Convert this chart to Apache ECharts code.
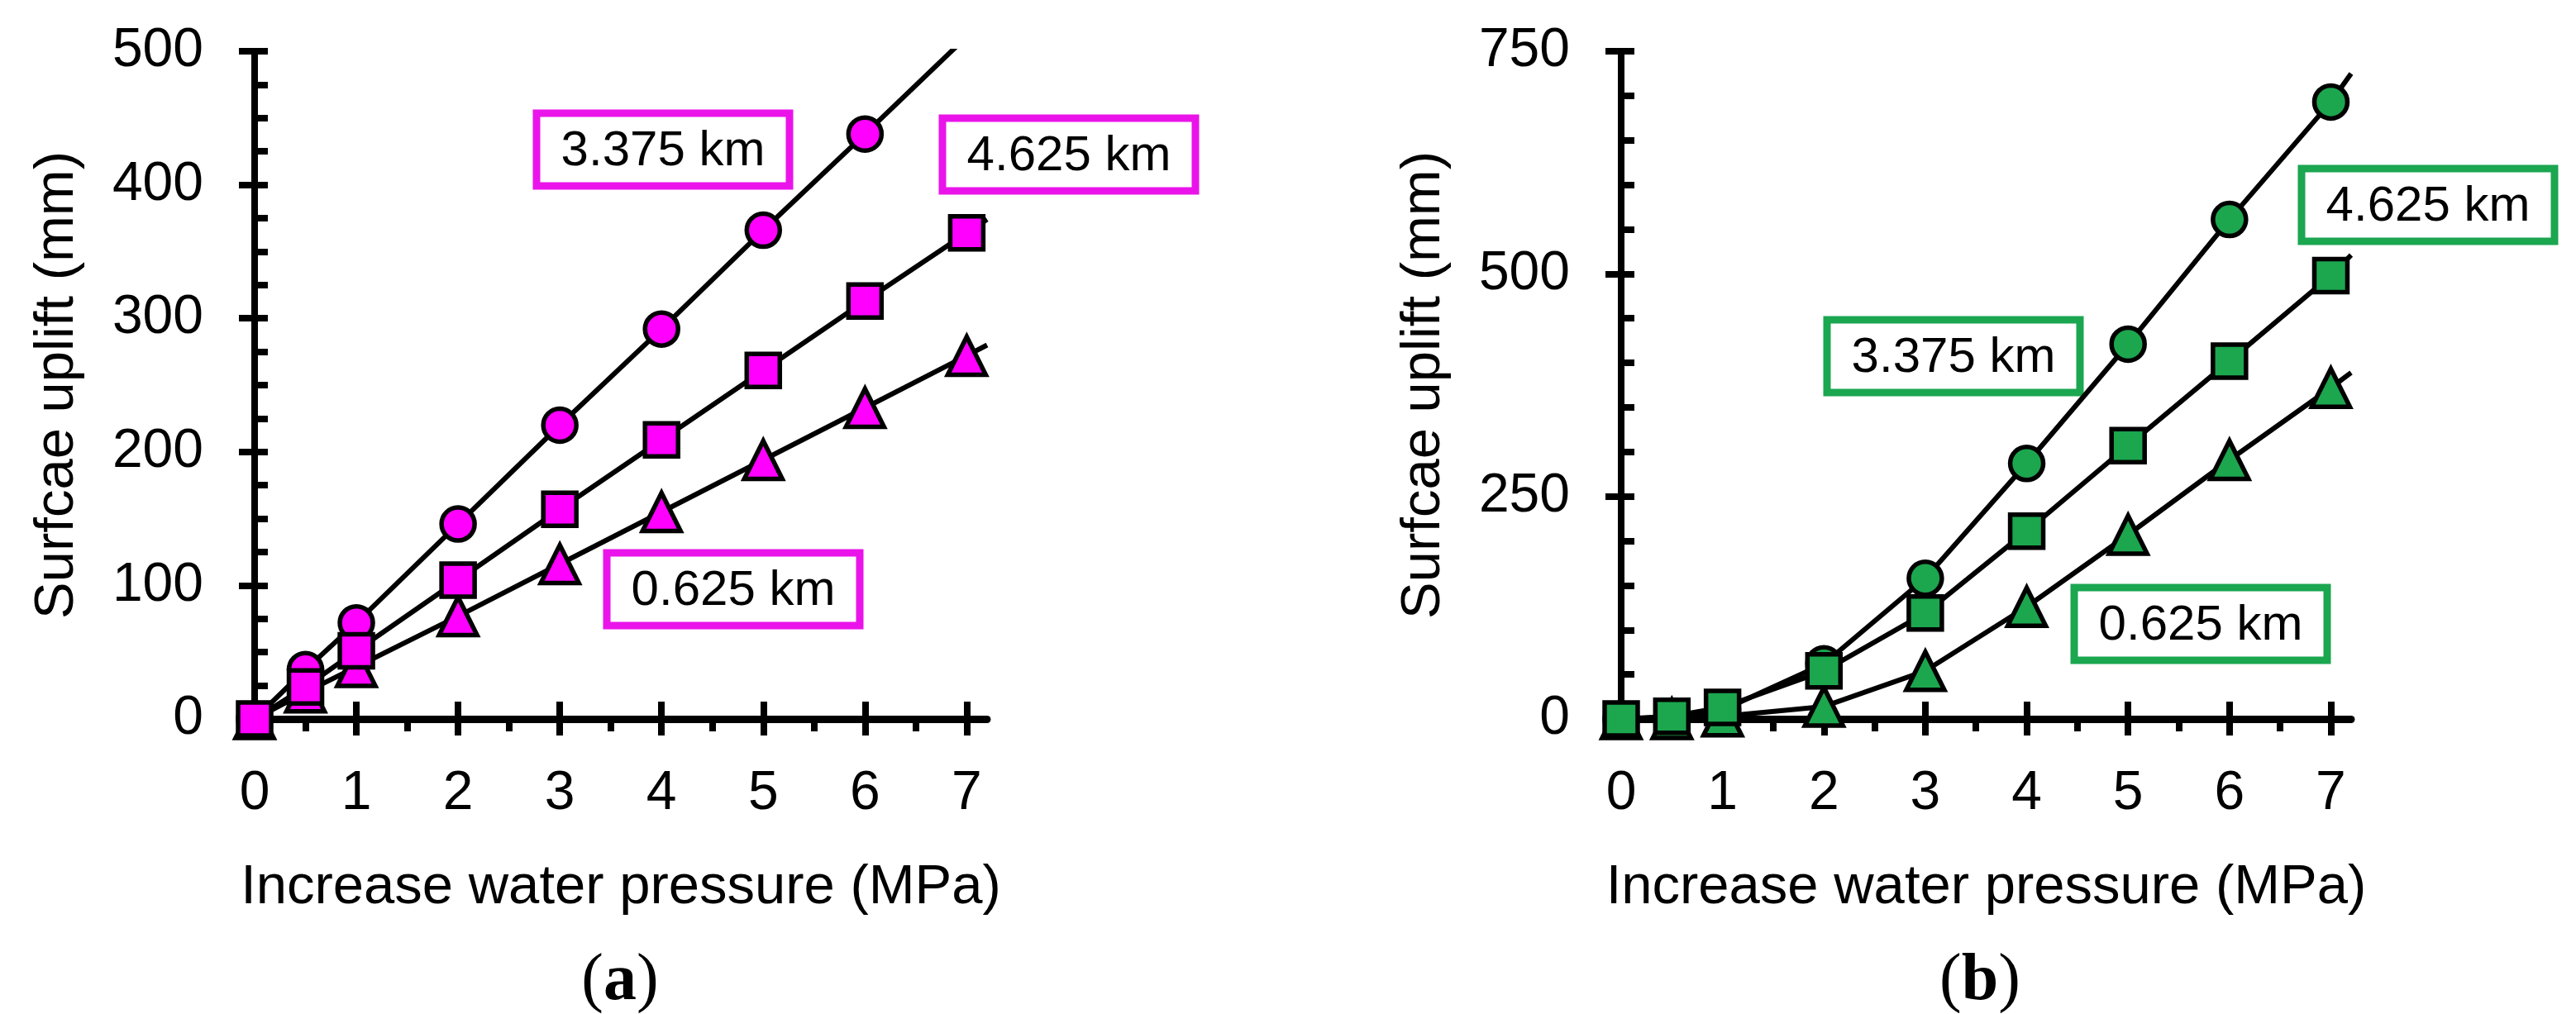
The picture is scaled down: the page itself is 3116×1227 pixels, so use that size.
<!DOCTYPE html>
<html>
<head>
<meta charset="utf-8">
<script src="https://cdn.jsdelivr.net/npm/echarts@6/dist/echarts.min.js"></script>
<style>
  html, body { margin: 0; padding: 0; background: #fff; }
  #chart { width: 3116px; height: 1227px; }
</style>
</head>
<body>
<div id="chart"></div>
<script>
// 横轴：水压增量 (MPa)
const pressure = [0, 0.5, 1, 2, 3, 4, 5, 6, 7];
const depthNames = ['3.375 km', '4.625 km', '0.625 km'];

// (a) 地表抬升 (mm)
const upliftA_3375 = [0, 37, 72, 146, 220, 292, 366, 438];
const upliftA_4625 = [0, 24, 51, 104, 157, 209, 261, 313, 364];
const upliftA_0625 = [0, 20, 39, 77, 116, 155, 194, 233, 272];
// 线的延伸端点（超出最后一个点）
const lineEndA = [[7, 511], [7.2, 374], [7.2, 280]];

// (b) 地表抬升 (mm)
const upliftB_3375 = [0, 2, 10, 62, 158, 287, 421, 561, 693];
const upliftB_4625 = [0, 3, 13, 54, 119, 211, 307, 402, 498];
const upliftB_0625 = [0, 0, 3, 14, 54, 126, 207, 291, 372];
const lineEndB = [[7.2, 725], [7.2, 521], [7.2, 389]];

// 刻度
const xTicks = [0, 1, 2, 3, 4, 5, 6, 7];
const xHalfTicks = [0.5, 1.5, 2.5, 3.5, 4.5, 5.5, 6.5];
const yTicksA = [0, 100, 200, 300, 400, 500];
const yMinorA = [0, 25, 50, 75, 100, 125, 150, 175, 200, 225, 250, 275, 300, 325, 350, 375, 400, 425, 450, 475, 500];
const yTicksB = [0, 250, 500, 750];
const yMinorB = [0, 50, 100, 150, 200, 250, 300, 350, 400, 450, 500, 550, 600, 650, 700, 750];

const FONT = '"Liberation Sans", Arial, sans-serif';
const SERIF = '"Liberation Serif", "Times New Roman", serif';
const MAGENTA = '#ff00ff';
const MAGENTA_BOX = '#ea14ea';
const GREEN = '#1ca64e';
const GREEN_BOX = '#1ba650';

let chart = echarts.init(document.getElementById('chart'));

const pairs = (vals) => vals.map((v, i) => [pressure[i], v]);

// 主横轴（轴线、标签、向下的大刻度）
function xMain(grid) {
  return {
    type: 'value', gridIndex: grid, min: 0, max: 7.2, position: 'bottom',
    name: 'Increase water pressure (MPa)', nameLocation: 'middle', nameGap: 171,
    nameTextStyle: {fontSize: 67, fontFamily: FONT, color: '#000'},
    axisLine: {show: true, onZero: false, lineStyle: {color: '#000', width: 9}},
    axisTick: {show: true, customValues: xTicks, length: 20, lineStyle: {color: '#000', width: 8}},
    axisLabel: {show: true, customValues: xTicks, margin: 58, fontSize: 66, fontFamily: FONT, color: '#000'},
    splitLine: {show: false}
  };
}
// 辅助横轴：只画刻度
function xTickOnly(grid, values, inside, len) {
  return {
    type: 'value', gridIndex: grid, min: 0, max: 7.2, position: 'bottom',
    axisLine: {show: false, onZero: false},
    axisTick: {show: true, inside: inside, customValues: values, length: len, lineStyle: {color: '#000', width: 8}},
    axisLabel: {show: false},
    splitLine: {show: false}
  };
}
function yMain(grid, max, ticks) {
  return {
    type: 'value', gridIndex: grid, min: 0, max: max, position: 'left',
    name: 'Surfcae uplift (mm)', nameLocation: 'middle', nameGap: 205,
    nameTextStyle: {fontSize: 67, fontFamily: FONT, color: '#000'},
    axisLine: {show: true, onZero: false, lineStyle: {color: '#000', width: 8}},
    axisTick: {show: true, customValues: ticks, length: 19, lineStyle: {color: '#000', width: 8}},
    axisLabel: {show: true, customValues: ticks, margin: 62, fontSize: 66, fontFamily: FONT, color: '#000'},
    splitLine: {show: false}
  };
}
function yTickOnly(grid, max, values) {
  return {
    type: 'value', gridIndex: grid, min: 0, max: max, position: 'left',
    axisLine: {show: false, onZero: false},
    axisTick: {show: true, inside: true, customValues: values, length: 16, lineStyle: {color: '#000', width: 8}},
    axisLabel: {show: false},
    splitLine: {show: false}
  };
}

// 连线（含延伸段）
function fitLine(xi, yi, vals, end) {
  return {
    type: 'line', xAxisIndex: xi, yAxisIndex: yi, z: 2,
    symbol: 'none', clip: true, silent: true,
    lineStyle: {color: '#000', width: 6},
    data: pairs(vals).concat([end])
  };
}
function markers(xi, yi, name, vals, symbol, size, color) {
  return {
    type: 'scatter', name: name, xAxisIndex: xi, yAxisIndex: yi, z: 3,
    symbol: symbol, symbolSize: size,
    itemStyle: {color: color, borderColor: '#000', borderWidth: 5.5, opacity: 1},
    data: pairs(vals)
  };
}

function labelBox(cx, cy, text, color) {
  return {
    type: 'group', x: cx, y: cy, z: 10,
    children: [
      {type: 'rect', shape: {x: -153, y: -44, width: 306, height: 88},
        style: {fill: '#fff', stroke: color, lineWidth: 9}},
      {type: 'text', x: 0, y: 2,
        style: {text: text, fontSize: 60, fontFamily: FONT, fill: '#000',
          align: 'center', verticalAlign: 'middle', textAlign: 'center', textVerticalAlign: 'middle'}}
    ]
  };
}
function panelTag(cx, cy, letter) {
  return {
    type: 'text', x: cx, y: cy, z: 10,
    style: {
      text: '{p|(}{b|' + letter + '}{p|)}',
      align: 'center', verticalAlign: 'middle', textAlign: 'center', textVerticalAlign: 'middle',
      rich: {
        p: {fontSize: 80, fontFamily: SERIF, fill: '#000', color: '#000'},
        b: {fontSize: 80, fontFamily: SERIF, fontWeight: 'bold', fill: '#000', color: '#000'}
      }
    }
  };
}

let option = {
  animation: false,
  backgroundColor: '#fff',
  grid: [
    {left: 308, top: 62, width: 886, height: 808},
    {left: 1961, top: 62, width: 883, height: 808}
  ],
  xAxis: [
    xMain(0), xTickOnly(0, xHalfTicks, false, 15), xTickOnly(0, xTicks, true, 21),
    xMain(1), xTickOnly(1, xHalfTicks, false, 15), xTickOnly(1, xTicks, true, 21)
  ],
  yAxis: [
    yMain(0, 500, yTicksA), yTickOnly(0, 500, yMinorA),
    yMain(1, 750, yTicksB), yTickOnly(1, 750, yMinorB)
  ],
  series: [
    // (a)
    fitLine(0, 0, upliftA_3375, lineEndA[0]),
    fitLine(0, 0, upliftA_4625, lineEndA[1]),
    fitLine(0, 0, upliftA_0625, lineEndA[2]),
    markers(0, 0, depthNames[0], upliftA_3375, 'circle', 40, MAGENTA),
    markers(0, 0, depthNames[2], upliftA_0625, 'triangle', [46, 46], MAGENTA),
    markers(0, 0, depthNames[1], upliftA_4625, 'rect', 40, MAGENTA),
    // (b)
    fitLine(3, 2, upliftB_3375, lineEndB[0]),
    fitLine(3, 2, upliftB_4625, lineEndB[1]),
    fitLine(3, 2, upliftB_0625, lineEndB[2]),
    markers(3, 2, depthNames[0], upliftB_3375, 'circle', 40, GREEN),
    markers(3, 2, depthNames[2], upliftB_0625, 'triangle', [46, 46], GREEN),
    markers(3, 2, depthNames[1], upliftB_4625, 'rect', 40, GREEN)
  ],
  graphic: [
    labelBox(802, 181, depthNames[0], MAGENTA_BOX),
    labelBox(1293, 187, depthNames[1], MAGENTA_BOX),
    labelBox(887, 713, depthNames[2], MAGENTA_BOX),
    labelBox(2363, 431, depthNames[0], GREEN_BOX),
    labelBox(2937, 248, depthNames[1], GREEN_BOX),
    labelBox(2662, 755, depthNames[2], GREEN_BOX),
    panelTag(750, 1188, 'a'),
    panelTag(2395, 1188, 'b')
  ]
};
chart.setOption(option);

window.onresize = () => {
  chart.resize();
};
</script>
</body>
</html>
